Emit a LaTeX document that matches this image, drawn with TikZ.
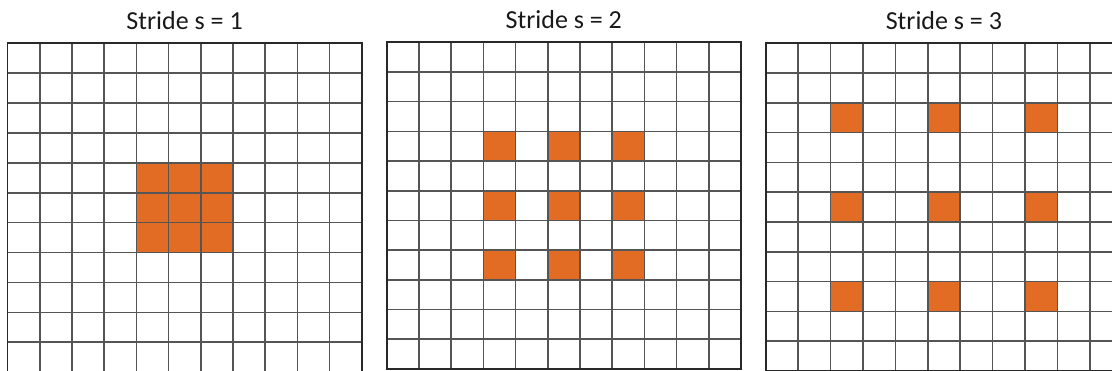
\documentclass[tikz,border=0pt]{standalone}
\usepackage{fontspec}
\setmainfont{Carlito}
\definecolor{cellorange}{RGB}{226,108,36}
\definecolor{gridgray}{RGB}{85,85,85}
\definecolor{framegray}{RGB}{40,40,40}
\newcommand\stridepanel[7]{%
  \begin{scope}[shift={(#1,#2)}]
    \foreach \c/\r in {#5} \fill[hot] (\c*#3,\r*#4) rectangle ++(#3,#4);
    \foreach \i in {1,...,10} {
      \draw[gridline] (\i*#3,0) -- (\i*#3,11*#4);
      \draw[gridline] (0,\i*#4) -- (11*#3,\i*#4);
    }
    \draw[frameline] (0,0) rectangle (11*#3,11*#4);
    \node[title] (#7) at (5.5*#3,-14) {#6};
  \end{scope}}
\begin{document}
\begin{tikzpicture}[x=1pt,y=-1pt,
  gridline/.style={draw=gridgray,line width=1.6pt},
  frameline/.style={draw=framegray,line width=1.8pt},
  hot/.style={fill=cellorange},
  title/.style={font=\fontsize{26}{30}\selectfont,text=black!90,anchor=base}]
\useasboundingbox (0,0) rectangle (1112,371);
\clip (0,0) rectangle (1112,371);
\fill[white] (0,0) rectangle (1112,371);
\stridepanel{7.5}{43.3}{32.2}{29.9}{4/4,5/4,6/4,4/5,5/5,6/5,4/6,5/6,6/6}{Stride s = 1}{t1}
\stridepanel{386.7}{42.3}{32.2}{29.7}{3/3,5/3,7/3,3/5,5/5,7/5,3/7,5/7,7/7}{Stride s = 2}{t2}
\stridepanel{765.7}{43.3}{32.4}{29.8}{2/2,5/2,8/2,2/5,5/5,8/5,2/8,5/8,8/8}{Stride s = 3}{t3}
\end{tikzpicture}
\end{document}
